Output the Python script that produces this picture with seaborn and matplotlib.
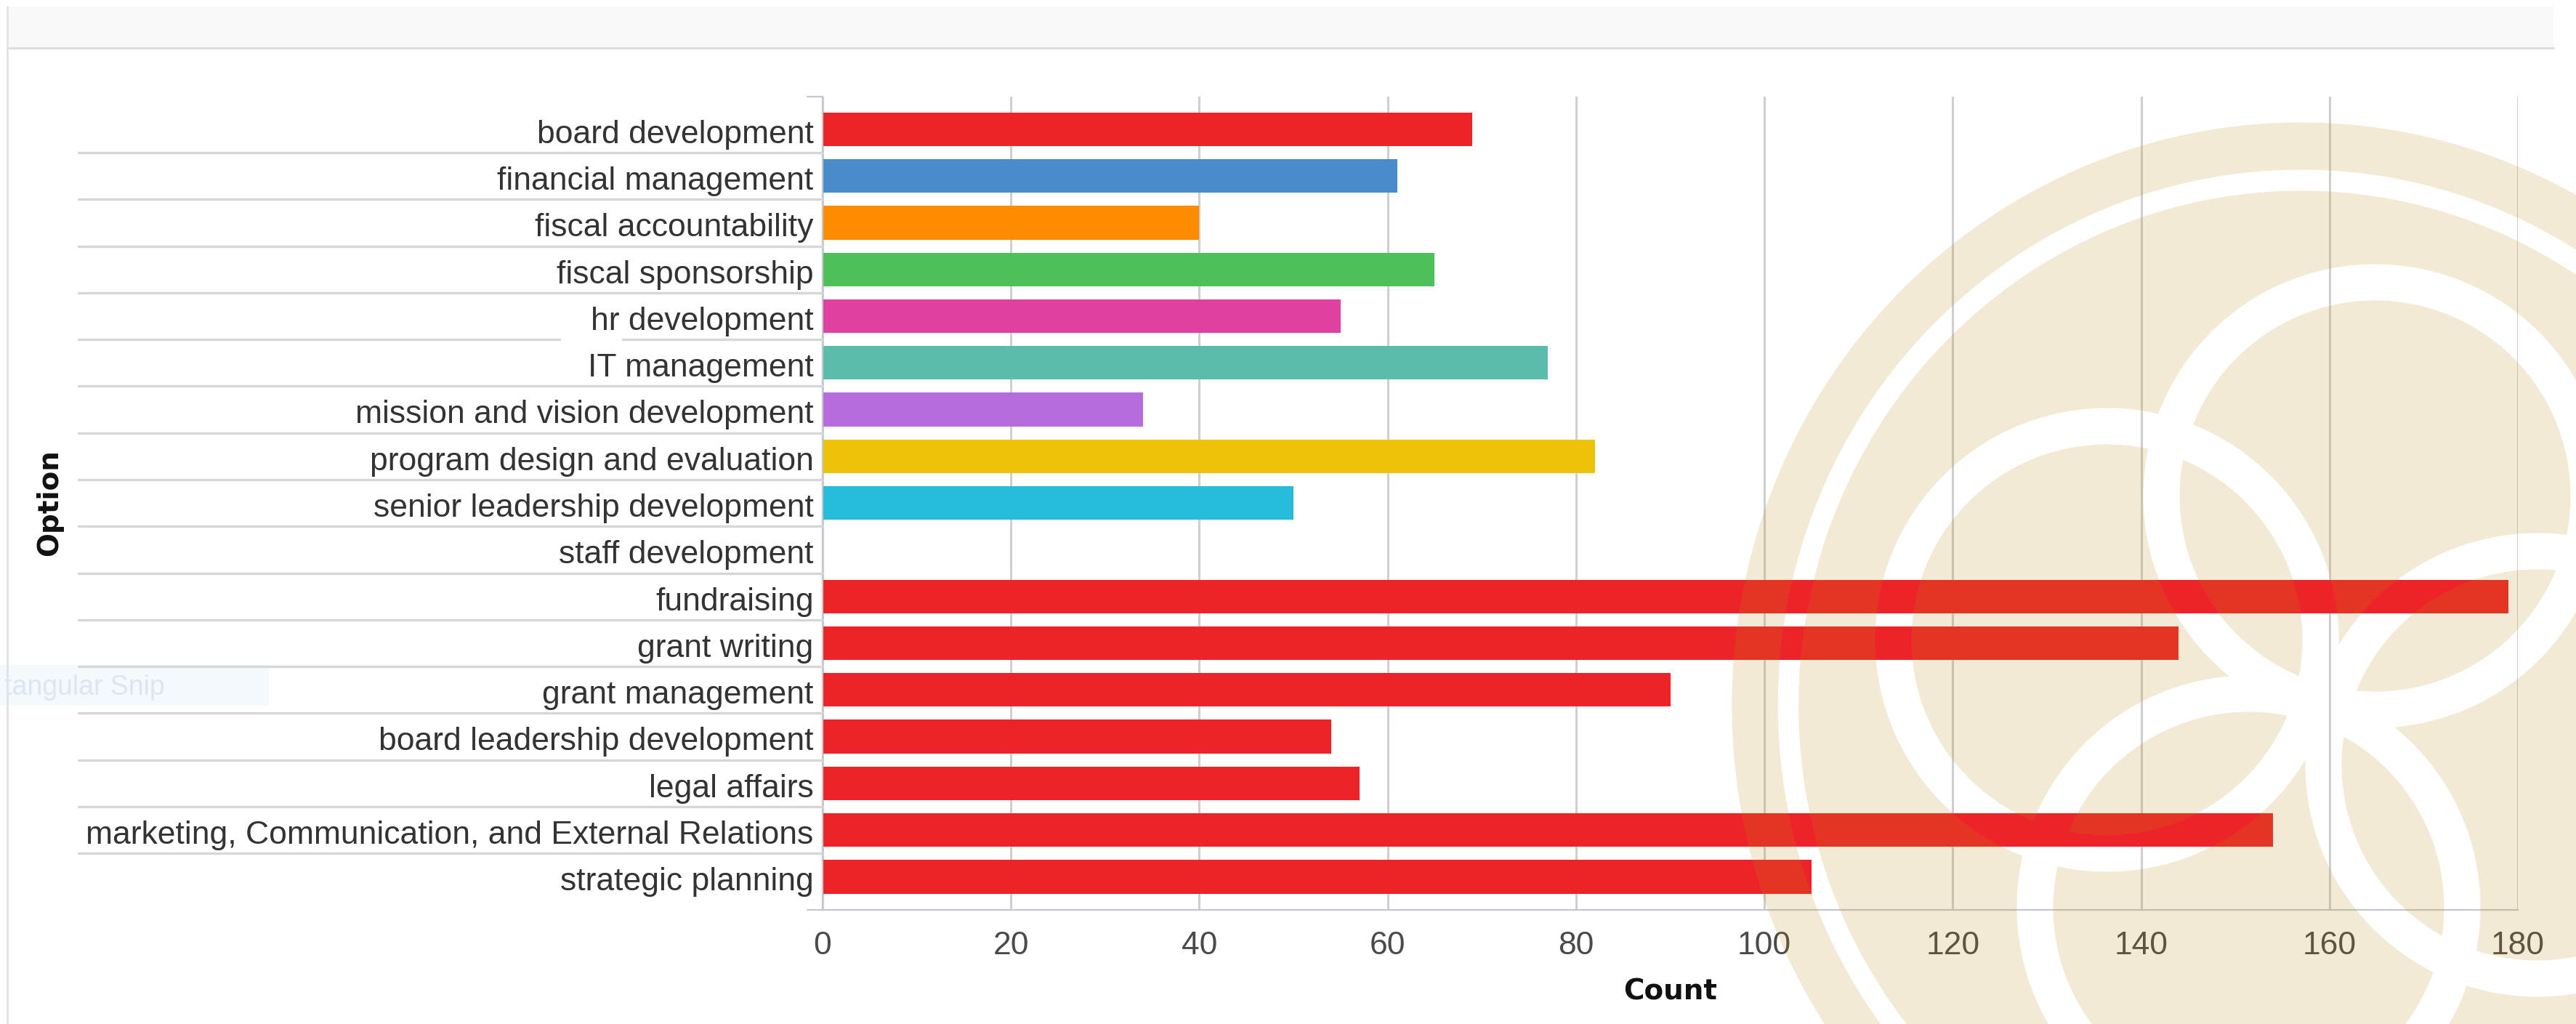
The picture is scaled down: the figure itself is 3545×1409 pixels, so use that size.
import numpy as np
import pandas as pd
import matplotlib
matplotlib.use("Agg")
import matplotlib.pyplot as plt
from matplotlib.patches import Rectangle
from matplotlib.lines import Line2D
from matplotlib.transforms import blended_transform_factory, ScaledTranslation
import seaborn as sns

options = ["board development", "financial management", "fiscal accountability",
           "fiscal sponsorship", "hr development", "IT management",
           "mission and vision development", "program design and evaluation",
           "senior leadership development", "staff development", "fundraising",
           "grant writing", "grant management", "board leadership development",
           "legal affairs", "marketing, Communication, and External Relations",
           "strategic planning"]
counts = [69, 61, 40, 65, 55, 77, 34, 82, 50, 0, 179, 144, 90, 54, 57, 154, 105]
colors = ["#ee2229", "#4a8cc9", "#ff8c00", "#4dbf5b", "#e040a0", "#5cbcab",
          "#b56cdc", "#ecc106", "#26bcdc", "#cccccc", "#ee2229", "#ee2229",
          "#ee2229", "#ee2229", "#ee2229", "#ee2229", "#ee2229"]
x_ticks = list(range(0, 181, 20))

W, H = 3545, 1409
GRID = "#cfcfcf"
SEP = "#d4d6d8"

sns.set_theme(style="white")
plt.rcParams["font.family"] = ["Liberation Sans", "DejaVu Sans"]

fig = plt.figure(figsize=(W / 100, H / 100), dpi=100, facecolor="white")
L, R_, T, B = 1132, 3465, 133, 1252
ax = fig.add_axes([L / W, 1 - B / H, (R_ - L) / W, (B - T) / H])

df = pd.DataFrame({"Option": options, "Count": counts})
sns.barplot(data=df, x="Count", y="Option", hue="Option", palette=colors,
            order=options, hue_order=options, dodge=False, width=0.72,
            legend=False, saturation=1, linewidth=0, ax=ax)
ax.set_xlim(0, 180)
ax.set_ylim(16.71, -0.70)

sns.despine(ax=ax, top=True, right=True)
for name in ("left", "bottom"):
    ax.spines[name].set_color("#c4c8cc")
    ax.spines[name].set_linewidth(1.6)

ax.set_xticks(x_ticks)
ax.tick_params(axis="x", length=14, width=1.8, color=GRID, labelsize=32,
               labelcolor="#4a4a4a", pad=7)
ax.tick_params(axis="y", length=0, labelsize=32, labelcolor="#333333", pad=9)
ax.set_axisbelow(True)
ax.xaxis.grid(True, color=GRID, linewidth=2.2)
ax.yaxis.grid(False)
nudge = ScaledTranslation(0, -2 / 72, fig.dpi_scale_trans)
for lab in ax.get_yticklabels():
    lab.set_transform(lab.get_transform() + nudge)

# separators running left from the axis, between the rows
tr = blended_transform_factory(fig.transFigure, ax.transData)
for i in range(len(options) - 1):
    fig.add_artist(Line2D([108 / W, L / W], [i + 0.5, i + 0.5], transform=tr,
                          color=SEP, linewidth=2.4))
# short end ticks of the vertical axis
for yy in (T, B):
    fig.add_artist(Line2D([1111 / W, L / W], [1 - yy / H, 1 - yy / H],
                          transform=fig.transFigure, color="#c4c8cc", linewidth=1.6))

ax.set_xlabel("Count", family="DejaVu Sans", fontweight="bold", fontsize=28, color="#111111")
ax.xaxis.set_label_coords((2299 - L) / (R_ - L), 1 - (1365 - T) / (B - T))
ax.xaxis.label.set_verticalalignment("center")
ax.set_ylabel("Option", family="DejaVu Sans", fontweight="bold", fontsize=28, color="#111111")
ax.yaxis.set_label_coords((68 - L) / (R_ - L), 1 - (692 - T) / (B - T))
ax.yaxis.label.set_verticalalignment("center")

# page furniture of the screenshot
fig.add_artist(Rectangle((10 / W, 1 - 66 / H), 3504 / W, 57 / H, transform=fig.transFigure,
                         facecolor="#f9f9f9", edgecolor="none", zorder=-5))
fig.add_artist(Line2D([10 / W, 3514 / W], [1 - 66 / H] * 2, transform=fig.transFigure,
                      color="#dcdcdc", linewidth=2))
fig.add_artist(Line2D([10 / W, 10 / W], [0, 1 - 9 / H], transform=fig.transFigure,
                      color="#e2e2e2", linewidth=2))
# patch that interrupts the separator above the IT label
fig.add_artist(Rectangle((772 / W, 1 - 480 / H), 84 / W, 16 / H, transform=fig.transFigure,
                         facecolor="white", edgecolor="none", zorder=5))
# ghost of a snipping tool tooltip
fig.add_artist(Rectangle((0, 1 - 971 / H), 370 / W, 56 / H, transform=fig.transFigure,
                         facecolor="#f3f9fd", edgecolor="none", zorder=-4))
fig.text(6 / W, 1 - 946 / H, "tangular Snip", color="#dbe6ee", fontsize=27, va="center", ha="left")

# watermark seal on top of everything, tinting what lies underneath
yy, xx = np.mgrid[0:H, 0:W]


def dist(cx, cy, stretch=1.0):
    return np.hypot((xx - cx) * stretch, yy - cy)


def ring(cx, cy, r_in, r_out, stretch=1.0):
    d = dist(cx, cy, stretch)
    return np.clip(np.minimum(r_out - d, d - r_in) + 0.5, 0, 1)


cover = np.clip(802 - dist(3166, 970, 1.024) + 0.5, 0, 1)
cover = cover * (1 - ring(3166, 970, 708, 737, 1.024))
for cx, cy in [(3268, 682), (2899, 880), (3094, 1248), (3491, 1052)]:
    cover = cover * (1 - ring(cx, cy, 269, 319))
seal = np.zeros((H, W, 4))
seal[..., 0] = 183 / 255
seal[..., 1] = 139 / 255
seal[..., 2] = 17 / 255
seal[..., 3] = cover * 0.18
fig.figimage(seal, xo=0, yo=0, origin="upper", zorder=20, resize=False)

fig.savefig("out.png", dpi=100, facecolor="white")
